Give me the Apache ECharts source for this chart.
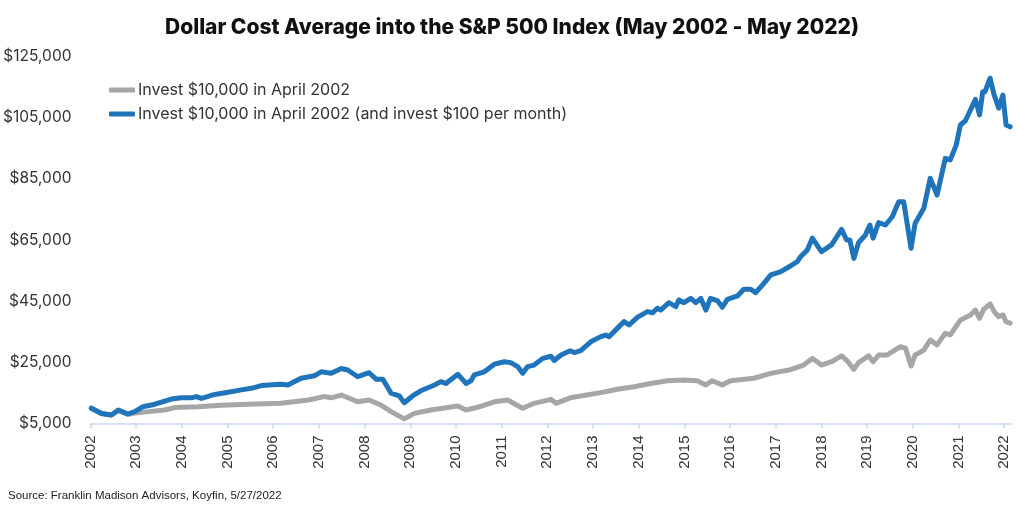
<!DOCTYPE html>
<html>
<head>
<meta charset="utf-8">
<script src="https://cdn.jsdelivr.net/npm/echarts@6/dist/echarts.min.js"></script>
<style>
html,body{margin:0;padding:0;background:#fff;}
#chart{width:1024px;height:512px;}
</style>
</head>
<body>
<div id="chart"></div>
<script>
// Tick labels
const yearTicks = [2002,2003,2004,2005,2006,2007,2008,2009,2010,2011,2012,2013,2014,2015,2016,2017,2018,2019,2020,2021,2022];
const yTicks = [5000,25000,45000,65000,85000,105000,125000];

// Series names
const seriesNames = ['Invest $10,000 in April 2002', 'Invest $10,000 in April 2002 (and invest $100 per month)'];

// Lump sum (grey) — dates as decimal years, values in dollars
const greyDates = [2002.02,2002.24,2002.46,2002.61,2002.82,2002.97,2003.22,2003.62,2003.84,2004.36,2004.86,2005.45,2006.17,2006.77,2007.11,2007.27,2007.49,2007.85,2008.10,2008.36,2008.58,2008.87,2009.09,2009.45,2010.04,2010.22,2010.47,2010.84,2011.13,2011.46,2011.71,2012.08,2012.19,2012.50,2013.17,2013.53,2013.90,2014.26,2014.63,2014.99,2015.28,2015.47,2015.61,2015.83,2016.01,2016.52,2016.89,2017.32,2017.61,2017.80,2018.00,2018.22,2018.44,2018.58,2018.71,2018.81,2019.03,2019.13,2019.25,2019.44,2019.73,2019.84,2019.96,2020.05,2020.24,2020.38,2020.53,2020.71,2020.82,2021.04,2021.26,2021.37,2021.46,2021.55,2021.69,2021.78,2021.88,2021.97,2022.04,2022.13];
const greyValues = [10000,8300,7800,9200,8000,8400,8800,9400,10200,10500,11000,11300,11600,12700,13800,13400,14300,12100,12700,11000,8900,6500,8300,9400,10700,9400,10300,12100,12700,10000,11600,12900,11600,13400,15100,16200,17000,18100,19000,19200,19000,17600,19000,17600,19000,19800,21400,22600,24100,26300,24100,25200,27100,25200,22700,24900,27100,25200,27400,27400,30100,29600,23800,27400,29000,32300,30700,34500,34000,38800,40500,42100,39400,42300,44100,41600,39900,40500,38300,37800];

// Dollar cost average (blue)
const blueDates = [2002.02,2002.24,2002.46,2002.61,2002.82,2002.97,2003.15,2003.41,2003.77,2003.99,2004.21,2004.32,2004.43,2004.72,2005.08,2005.30,2005.52,2005.74,2006.17,2006.32,2006.61,2006.90,2007.05,2007.27,2007.49,2007.63,2007.85,2008.10,2008.25,2008.40,2008.58,2008.76,2008.87,2009.05,2009.23,2009.53,2009.67,2009.78,2010.04,2010.22,2010.33,2010.40,2010.62,2010.84,2011.06,2011.20,2011.35,2011.46,2011.57,2011.71,2011.90,2012.08,2012.15,2012.30,2012.50,2012.59,2012.73,2012.95,2013.17,2013.28,2013.35,2013.53,2013.68,2013.79,2013.97,2014.19,2014.30,2014.41,2014.48,2014.66,2014.81,2014.88,2014.99,2015.14,2015.25,2015.36,2015.47,2015.57,2015.72,2015.83,2015.94,2016.16,2016.30,2016.45,2016.56,2016.74,2016.89,2017.10,2017.32,2017.47,2017.54,2017.69,2017.80,2018.00,2018.22,2018.44,2018.55,2018.62,2018.71,2018.81,2018.96,2019.06,2019.13,2019.25,2019.40,2019.55,2019.69,2019.80,2019.96,2020.05,2020.24,2020.38,2020.53,2020.71,2020.82,2020.95,2021.04,2021.15,2021.37,2021.46,2021.53,2021.58,2021.69,2021.78,2021.88,2021.97,2022.04,2022.13];
const blueValues = [10000,8300,7800,9400,8100,8900,10500,11300,13000,13400,13400,13800,13200,14500,15400,16000,16500,17400,17800,17600,19800,20600,21900,21400,23000,22500,20300,21600,19500,19500,14900,14000,11800,14000,15700,17600,18700,18100,21100,18100,19000,20900,21900,24400,25200,24900,23600,21400,23600,24100,26300,27000,25600,27400,28800,28200,28800,31700,33400,33900,33400,36100,38300,37200,39700,41600,41200,42700,42100,44500,43200,45400,44500,45900,44500,45900,42100,45900,45200,43000,45600,46700,48900,48900,47800,50800,53600,54600,56500,57900,59500,61700,65600,61200,63400,68500,65000,65000,59000,64100,66600,69900,65600,70700,69900,72600,77500,77500,62300,70500,75400,85200,79700,91700,91200,96100,102600,104000,111000,105900,113500,113500,117900,112400,108100,112400,102600,102000];

const zip = (a, b) => a.map((d, i) => [d, b[i]]);

const chart = echarts.init(document.getElementById('chart'), null, {renderer: 'canvas'});
const font = 'Inter, "Noto Sans", sans-serif';
chart.setOption({
  animation: false,
  backgroundColor: '#ffffff',
  title: {
    text: 'Dollar Cost Average into the S&P 500 Index (May 2002 - May 2022)',
    left: 'center',
    top: 12,
    textStyle: {fontFamily: font, fontSize: 21, fontWeight: 800, color: '#111111'}
  },
  legend: {
    orient: 'vertical',
    left: 104,
    top: 77,
    itemWidth: 26,
    itemHeight: 5,
    itemGap: 8,
    icon: 'roundRect',
    data: seriesNames,
    textStyle: {fontFamily: font, fontSize: 16, color: '#333333', padding: [0,0,0,-2]}
  },
  grid: {left: 89, right: 12, top: 56.5, bottom: 88.5, containLabel: false},
  xAxis: {
    type: 'value',
    min: 2002,
    max: 2022.17,
    interval: 1,
    splitLine: {show: false},
    axisLine: {show: true, lineStyle: {color: '#c9d8ef', width: 1.5}},
    axisTick: {show: true, length: 5, lineStyle: {color: '#c9d8ef', width: 1.5}, customValues: yearTicks},
    axisLabel: {
      rotate: 90, margin: 12, fontFamily: '"Liberation Sans", Arial, sans-serif', fontSize: 15, color: '#333333',
      customValues: yearTicks,
      formatter: v => String(Math.round(v))
    }
  },
  yAxis: {
    type: 'value',
    min: 5000,
    max: 125000,
    splitLine: {show: false},
    axisLine: {show: false},
    axisTick: {show: false},
    axisLabel: {
      margin: 19, fontFamily: font, fontSize: 15.5, color: '#333333',
      customValues: yTicks,
      formatter: v => '$' + Number(v).toLocaleString('en-US')
    }
  },
  series: [
    {
      name: seriesNames[0], type: 'line', showSymbol: false, data: zip(greyDates, greyValues),
      lineStyle: {color: '#a6a6a6', width: 5, cap: 'round', join: 'round'}, itemStyle: {color: '#a6a6a6'}
    },
    {
      name: seriesNames[1], type: 'line', showSymbol: false, data: zip(blueDates, blueValues),
      lineStyle: {color: '#1f74bb', width: 5, cap: 'round', join: 'round'}, itemStyle: {color: '#1f74bb'}
    }
  ],
  graphic: [{
    type: 'text', left: 8, top: 490,
    style: {text: 'Source: Franklin Madison Advisors, Koyfin, 5/27/2022', font: '11.5px "Liberation Sans", Arial, sans-serif', fill: '#222222'}
  }]
});
</script>
</body>
</html>
